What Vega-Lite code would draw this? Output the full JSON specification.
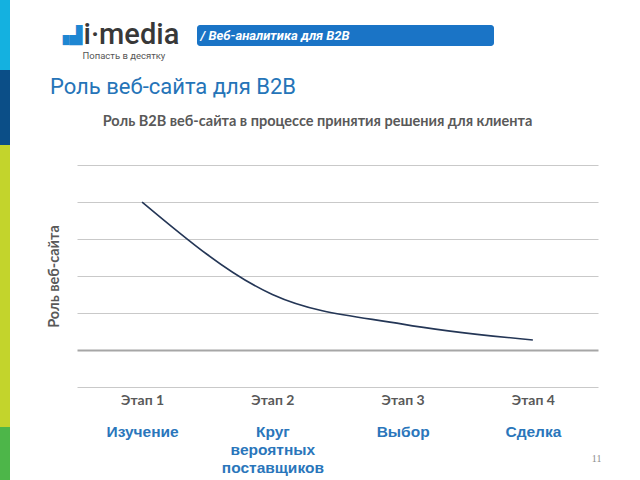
{
  "$schema": "https://vega.github.io/schema/vega-lite/v6.json",
  "padding": 0,
  "background": "white",
  "config": {"view": {"stroke": null}},
  "datasets": {
    "stages": [
      {"stage": "Этап 1", "caption": "Изучение", "value": 4},
      {"stage": "Этап 2", "caption": "Круг\nвероятных\nпоставщиков", "value": 1.5},
      {"stage": "Этап 3", "caption": "Выбор", "value": 0.7},
      {"stage": "Этап 4", "caption": "Сделка", "value": 0.27}
    ],
    "one": [{"item": 1}]
  },
  "spacing": 36,
  "hconcat": [
    {
      "spacing": 0,
      "vconcat": [
        {"width": 10, "height": 70, "data": {"name": "one"}, "mark": {"type": "rect", "fill": "#14b1e0"}},
        {"width": 10, "height": 75, "data": {"name": "one"}, "mark": {"type": "rect", "fill": "#0b4e87"}},
        {"width": 10, "height": 282, "data": {"name": "one"}, "mark": {"type": "rect", "fill": "#c3d42c"}},
        {"width": 10, "height": 53, "data": {"name": "one"}, "mark": {"type": "rect", "fill": "#4db649"}}
      ]
    },
    {
      "spacing": 13,
      "vconcat": [
        {
          "spacing": 11,
          "hconcat": [
            {
              "width": 109,
              "height": 62,
              "data": {"name": "one"},
              "layer": [
                {"mark": {"type": "text", "text": "▗▟", "font": "DejaVu Sans", "fontSize": 17, "color": "#1e86d2", "align": "right", "baseline": "alphabetic", "dx": -49, "dy": 10}},
                {"mark": {"type": "text", "text": "i·media", "font": "Roboto", "fontWeight": 500, "fontSize": 29, "color": "#383838", "align": "left", "baseline": "alphabetic", "dx": -48, "dy": 13}},
                {"mark": {"type": "text", "text": "Попасть в десятку", "font": "Roboto", "fontSize": 9.5, "color": "#555555", "align": "left", "baseline": "alphabetic", "dx": -49, "dy": 28}}
              ]
            },
            {
              "spacing": 0,
              "vconcat": [
                {"width": 297, "height": 25, "data": {"name": "one"}, "mark": {"type": "rect", "fillOpacity": 0}},
                {
                  "width": 297,
                  "height": 21,
                  "data": {"name": "one"},
                  "layer": [
                    {"mark": {"type": "rect", "fill": "#1a74c6", "cornerRadius": 3}},
                    {"mark": {"type": "text", "text": "/ Веб-аналитика для B2B", "font": "Roboto", "fontStyle": "italic", "fontWeight": "bold", "fontSize": 13, "color": "white", "align": "left", "baseline": "middle", "dx": -145}}
                  ]
                }
              ]
            }
          ]
        },
        {
          "title": {"text": "Роль веб-сайта для B2B", "anchor": "start", "font": "Roboto", "fontSize": 22, "fontWeight": "normal", "color": "#2574b8", "offset": 15, "dx": 4},
          "vconcat": [
            {
              "width": 521,
              "height": 222,
              "title": {"text": "Роль B2B веб-сайта в процессе принятия решения для клиента", "anchor": "middle", "frame": "bounds", "font": "Lato", "fontSize": 14.5, "fontWeight": "bold", "color": "#595959", "offset": 36, "dx": -6},
              "data": {"name": "stages"},
              "layer": [
                {
                  "mark": {"type": "line", "interpolate": "monotone", "color": "#243656", "strokeWidth": 1.6},
                  "encoding": {
                    "x": {
                      "field": "stage", "type": "nominal", "sort": null,
                      "axis": {"orient": "bottom", "title": null, "labelAngle": 0, "domain": false, "ticks": false, "grid": false, "labelFont": "Lato", "labelFontSize": 14, "labelFontWeight": "bold", "labelColor": "#595959", "labelPadding": 6}
                    },
                    "y": {
                      "field": "value", "type": "quantitative", "scale": {"domain": [-1, 5], "nice": false},
                      "axis": {
                        "title": "Роль веб-сайта", "titleFont": "Lato", "titleFontSize": 14.5, "titleFontWeight": "bold", "titleColor": "#595959", "titlePadding": 16,
                        "labels": false, "ticks": false, "domain": false, "grid": true, "values": [-1, 0, 1, 2, 3, 4, 5], "tickCount": 12,
                        "gridColor": {"condition": {"test": "datum.value === 0", "value": "#a6a6a6"}, "value": "#c9c9c9"},
                        "gridWidth": {"condition": {"test": "datum.value === 0", "value": 2.2}, "value": 1}
                      }
                    }
                  }
                },
                {
                  "mark": {"type": "point", "opacity": 0},
                  "encoding": {
                    "x": {
                      "field": "caption", "type": "nominal", "sort": null,
                      "axis": {
                        "orient": "bottom", "offset": 33, "labelAngle": 0, "domain": false, "ticks": false, "grid": false,
                        "labelFont": "Liberation Sans", "labelFontSize": 15.5, "labelFontWeight": "bold", "labelColor": "#2a76bb",
                        "labelPadding": 4, "labelLineHeight": 18, "labelBaseline": "top",
                        "labelExpr": "split(datum.label, '\\n')",
                        "title": "11", "titleFont": "Liberation Serif", "titleFontSize": 10, "titleFontWeight": "normal", "titleColor": "#8c8c8c",
                        "titleX": 524, "titleY": 38, "titleAlign": "right", "titleBaseline": "middle"
                      }
                    },
                    "y": {"field": "value", "type": "quantitative"}
                  }
                }
              ],
              "resolve": {"scale": {"x": "independent"}, "axis": {"x": "independent"}}
            }
          ]
        }
      ]
    }
  ]
}
